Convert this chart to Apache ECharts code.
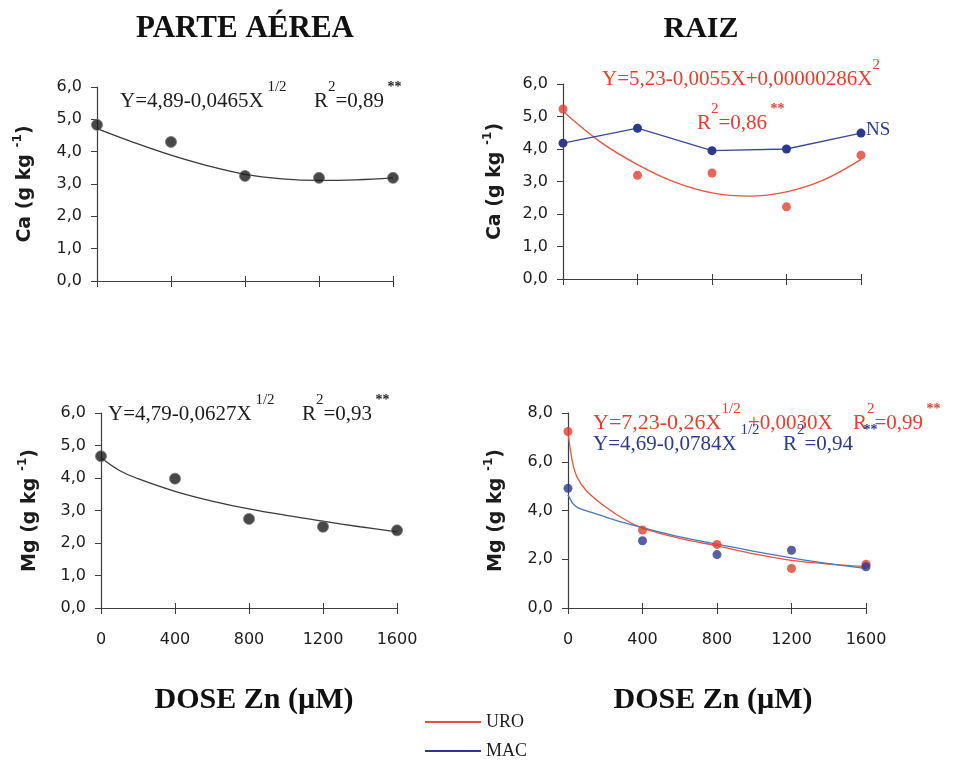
<!DOCTYPE html>
<html>
<head>
<meta charset="utf-8">
<script src="https://cdn.jsdelivr.net/npm/echarts@6/dist/echarts.min.js"></script>
<style>
html, body { margin: 0; padding: 0; background: #fff; }
#chart { width: 955px; height: 767px; }
</style>
</head>
<body>
<div id="chart"></div>
<script>
// doses de Zn (µM)
const doses = [0, 400, 800, 1200, 1600]

// Ca - parte aérea
const caShootObs = [4.83, 4.30, 3.25, 3.19, 3.19]
const caShootFitX = [0, 200, 400, 600, 800, 1000, 1200, 1400, 1600]
const caShootFitY = [4.71, 4.28, 3.89, 3.56, 3.30, 3.16, 3.11, 3.13, 3.19]

// Ca - raiz
const caRootUro = [5.23, 3.19, 3.26, 2.22, 3.81]
const caRootMac = [4.18, 4.64, 3.95, 4.00, 4.49]
const caRootFitX = [0, 200, 400, 600, 800, 1000, 1200, 1400, 1600]
const caRootUroFit = [5.16, 4.22, 3.52, 2.98, 2.65, 2.55, 2.68, 3.05, 3.68]

// Mg - parte aérea
const mgShootObs = [4.67, 3.98, 2.74, 2.50, 2.39]
const mgShootFitX = [0, 100, 200, 400, 600, 800, 1000, 1200, 1400, 1600]
const mgShootFitY = [4.62, 4.23, 3.98, 3.59, 3.29, 3.05, 2.85, 2.67, 2.50, 2.34]

// Mg - raiz
const mgRootUro = [7.24, 3.20, 2.61, 1.62, 1.80]
const mgRootMac = [4.91, 2.76, 2.19, 2.37, 1.69]
const mgRootFitX = [0, 25, 50, 100, 200, 300, 400, 600, 800, 1000, 1200, 1400, 1600]
const mgRootUroFit = [7.17, 5.95, 5.35, 4.80, 4.15, 3.65, 3.28, 2.86, 2.55, 2.22, 1.95, 1.80, 1.70]
const mgRootMacFit = [4.64, 4.30, 4.13, 3.98, 3.74, 3.50, 3.30, 2.92, 2.62, 2.32, 2.06, 1.82, 1.62]

const yMax = [6, 6, 6, 8]
const yStep = [1, 1, 1, 2]

const serif = 'Liberation Serif'
const sans = 'DejaVu Sans'
const ink = '#1c1c1c'
const axisInk = '#3c3c3c'
const red = '#e2402f'
const redLine = '#e4553f'
const blue = '#2c3a8e'
const blueLine = '#4a78b6'

const pts = (xs, ys) => xs.map((x, i) => [x, ys[i]])

const grids = [
	{left: 97, top: 87, width: 296, height: 194},
	{left: 563, top: 84, width: 298, height: 195},
	{left: 101, top: 413, width: 296, height: 195},
	{left: 568, top: 413, width: 298, height: 195}
]

function eqRich(color, size) {
	return {
		m: {fontFamily: serif, fontSize: size || 21, fontWeight: 'normal', color: color, lineHeight: 32, verticalAlign: 'bottom'},
		s: {fontFamily: serif, fontSize: 15, fontWeight: 'normal', color: color, lineHeight: 10, verticalAlign: 'top'},
		a: {fontFamily: serif, fontSize: 14, fontWeight: 'bold', color: color, lineHeight: 10, verticalAlign: 'top'}
	}
}
function eq(x, y, text, color, size) {
	return {
		text: text, left: x, top: y - 20, padding: 0,
		textStyle: {fontWeight: 'normal', fontFamily: serif, rich: eqRich(color, size)}
	}
}
function heading(text, cx, cy, size) {
	return {
		text: text, left: cx, top: cy - size / 2, textAlign: 'center', padding: 0,
		textStyle: {fontFamily: serif, fontSize: size, fontWeight: 'bold', color: '#111', lineHeight: size}
	}
}

const nameRich = {
	m: {fontFamily: sans, fontSize: 19, fontWeight: 'bold', color: ink, lineHeight: 23, verticalAlign: 'bottom'},
	s: {fontFamily: sans, fontSize: 12, fontWeight: 'bold', color: ink, lineHeight: 8, verticalAlign: 'top'}
}
const yNames = ['Ca (g kg ', 'Ca (g kg ', 'Mg (g kg ', 'Mg (g kg ']
const nameGaps = [62, 58, 61, 62]

const xAxes = []
const yAxes = []
grids.forEach((g, i) => {
	xAxes.push({
		type: 'value', gridIndex: i, position: 'bottom', min: 0, max: 1600, interval: 400,
		axisLine: {lineStyle: {color: axisInk, width: 1.2}},
		axisTick: {show: true, length: 6, lineStyle: {color: axisInk}},
		axisLabel: {show: i >= 2, margin: 24, fontFamily: sans, fontSize: 16, color: ink,
			formatter: v => String(v)},
		splitLine: {show: false}
	})
	xAxes.push({
		type: 'value', gridIndex: i, position: 'bottom', min: 0, max: 1600, interval: 400,
		axisLine: {show: false},
		axisTick: {show: true, inside: true, length: 5, lineStyle: {color: axisInk}},
		axisLabel: {show: false},
		splitLine: {show: false}
	})
	yAxes.push({
		type: 'value', gridIndex: i, position: 'left', min: 0, max: yMax[i], interval: yStep[i],
		axisLine: {show: true, lineStyle: {color: axisInk, width: 1.2}},
		axisTick: {show: true, length: 6, lineStyle: {color: axisInk}},
		axisLabel: {margin: 15, fontFamily: sans, fontSize: 16, color: ink,
			formatter: v => v.toFixed(1).replace('.', ',')},
		splitLine: {show: false},
		name: '{m|' + yNames[i] + '}{s|-1}{m|)}',
		nameLocation: 'middle', nameRotate: 90, nameGap: nameGaps[i],
		nameTextStyle: {rich: nameRich}
	})
})

function fit(axis, xs, ys, color, name, amount) {
	return {
		type: 'line', name: name, xAxisIndex: axis * 2, yAxisIndex: axis, data: pts(xs, ys),
		smooth: amount || 0.4, showSymbol: false, silent: true, z: 2,
		lineStyle: {color: color, width: 1.3}, itemStyle: {color: color}
	}
}
function dots(axis, ys, color, name, size, border) {
	return {
		type: 'scatter', name: name, xAxisIndex: axis * 2, yAxisIndex: axis, data: pts(doses, ys),
		symbolSize: size, z: 4,
		itemStyle: border ? {color: color, borderColor: '#777', borderWidth: 1} : {color: color}
	}
}

const option = {
	backgroundColor: '#fff',
	animation: false,
	grid: grids.map(g => Object.assign({containLabel: false, outerBoundsMode: 'none'}, g)),
	xAxis: xAxes,
	yAxis: yAxes,
	legend: {
		data: ['URO', 'MAC'], orient: 'vertical', left: 425, top: 713, icon: 'rect',
		itemWidth: 56, itemHeight: 2, itemGap: 11, selectedMode: false, padding: 0,
		textStyle: {fontFamily: serif, fontSize: 18, color: ink}
	},
	title: [
		heading('PARTE AÉREA', 245, 29, 31),
		heading('RAIZ', 701, 29, 30),
		heading('DOSE Zn (µM)', 254, 700, 30),
		heading('DOSE Zn (µM)', 713, 700, 30),
		eq(120, 100, '{m|Y=4,89-0,0465X}{s| 1/2}', ink),
		eq(314, 100, '{m|R}{s|2}{m|=0,89}{a| **}', ink),
		eq(602, 78, '{m|Y=5,23-0,0055X+0,00000286X}{s|2}', red),
		eq(697, 122, '{m|R}{s|2}{m|=0,86}{a| **}', red),
		eq(866, 128, '{m|NS}', blue, 19),
		eq(108, 413, '{m|Y=4,79-0,0627X}{s| 1/2}', ink),
		eq(302, 413, '{m|R}{s|2}{m|=0,93}{a| **}', ink),
		eq(593, 422, '{m|Y=7,23-0,26X}{s|1/2}', red, 22),
		eq(748, 422, '{m|+0,0030X}', red),
		eq(853, 422, '{m|R}{s|2}{m|=0,99}{a| **}', red),
		eq(593, 443, '{m|Y=4,69-0,0784X}{s| 1/2}', blue),
		eq(783, 443, '{m|R}{s|2}{m|=0,94}{a|   **}', blue)
	],
	series: [
		fit(0, caShootFitX, caShootFitY, '#3a3a3a', 'ajuste'),
		dots(0, caShootObs, '#1a1a1a', 'obs', 11, true),

		fit(1, caRootFitX, caRootUroFit, redLine, 'URO'),
		dots(1, caRootUro, red, 'URO', 9),
		{
			type: 'line', name: 'MAC', xAxisIndex: 2, yAxisIndex: 1, data: pts(doses, caRootMac),
			symbol: 'circle', symbolSize: 9, z: 3,
			lineStyle: {color: '#3b4a98', width: 1.3},
			itemStyle: {color: blue}
		},

		fit(2, mgShootFitX, mgShootFitY, '#3a3a3a', 'ajuste'),
		dots(2, mgShootObs, '#1a1a1a', 'obs', 11, true),

		fit(3, mgRootFitX, mgRootUroFit, redLine, 'URO', 0.25),
		fit(3, mgRootFitX, mgRootMacFit, blueLine, 'MAC', 0.25),
		dots(3, mgRootUro, red, 'URO', 9),
		dots(3, mgRootMac, blue, 'MAC', 9)
	]
}

const chart = echarts.init(document.getElementById('chart'), null, {renderer: 'canvas'})
chart.setOption(option)
</script>
</body>
</html>
